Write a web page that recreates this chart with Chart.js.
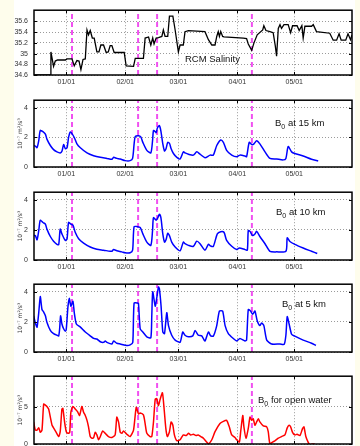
<!DOCTYPE html>
<html>
<head>
<meta charset="utf-8">
<script src="https://cdn.jsdelivr.net/npm/chart.js@4/dist/chart.umd.min.js"></script>
<style>
    body { margin: 0; width: 360px; height: 446px; overflow: hidden; background: #fefdec; position: relative;
           font-family: 'Liberation Sans', Arial, sans-serif; }
    #fig { position: absolute; left: 14px; top: 0; width: 341px; height: 446px; background: #ffffff; }
    canvas { position: absolute; left: 0; }
    .note { position: absolute; font-size: 9.5px; line-height: 1; color: #111; white-space: nowrap; }
    .note sub { font-size: 7px; vertical-align: -3px; line-height: 0; }
</style>
</head>
<body>
<div id="fig"></div>
<canvas id="c1" width="360" height="89" style="top:0px"></canvas>
<canvas id="c2" width="360" height="91" style="top:90px"></canvas>
<canvas id="c3" width="360" height="92" style="top:182px"></canvas>
<canvas id="c4" width="360" height="92" style="top:274px"></canvas>
<canvas id="c5" width="360" height="92" style="top:366px"></canvas>

<div class="note" style="left:185px;top:54px">RCM Salinity</div>
<div class="note" style="left:275px;top:118px">B<sub>0</sub> at 15 km</div>
<div class="note" style="left:276px;top:207px">B<sub>0</sub> at 10 km</div>
<div class="note" style="left:282px;top:299px">B<sub>0</sub> at 5 km</div>
<div class="note" style="left:258px;top:395px">B<sub>0</sub> for open water</div>

<script>
// days counted from 01/01
const monthTicks = [0, 31, 59, 90, 120];
const monthLabels = ['01/01', '02/01', '03/01', '04/01', '05/01'];
const eventDays = [3.0, 37.8, 47.8, 97.7];

// RCM salinity
const salDays = [-17.2, -8.4, -8.1, -6.7, -5.8, -4.6, -0.5, 0.4, 3.0, 4.2, 5.6, 6.7, 7.7, 8.8, 10.0, 10.9, 11.7, 12.6, 13.7, 14.7,
    16.1, 17.2, 18.2, 19.6, 21.0, 22.1, 23.1, 24.0, 25.2, 30.5, 31.5, 35.4, 36.3, 40.6, 41.5, 43.3, 44.5, 45.5, 46.2, 47.3,
    48.5, 50.3, 51.1, 52.0, 53.4, 54.3, 56.1, 57.3, 59.0, 59.9, 61.6, 62.5, 64.3, 73.0, 74.8, 76.6, 78.3, 79.2, 80.0, 80.6,
    81.3, 82.3, 83.0, 93.2, 94.9, 95.8, 97.6, 98.8, 100.5, 103.4, 104.0, 105.1, 107.2, 108.9, 110.0, 110.7, 111.6, 112.5, 113.3, 114.6,
    116.8, 118.1, 119.1, 121.5, 122.6, 124.0, 124.7, 125.6, 129.1, 130.0, 131.7, 138.7, 140.5, 142.3, 143.6, 144.7, 147.1, 148.3, 149.6, 150.4];
const salValues = [34.6, 34.6, 35.03, 34.76, 34.86, 34.88, 34.88, 34.9, 34.9, 34.77, 34.87, 34.86, 34.7, 34.89, 34.9, 35.44, 35.35, 35.43, 35.29, 35.29,
    35.03, 35.03, 35.16, 35.16, 35.02, 35.03, 35.15, 35.15, 35.02, 35.02, 34.77, 34.76, 34.91, 34.91, 35.29, 35.31, 35.16, 35.29, 35.18, 35.29,
    35.3, 35.32, 35.44, 35.32, 35.32, 35.7, 35.7, 35.44, 35.03, 35.16, 35.16, 35.41, 35.43, 35.41, 35.26, 35.16, 35.16, 35.32, 35.41, 35.32,
    35.41, 35.32, 35.31, 35.29, 35.28, 35.18, 35.06, 35.2, 35.35, 35.44, 35.52, 35.43, 35.41, 35.39, 35.15, 34.95, 35.47, 35.54, 35.47, 35.54,
    35.54, 35.39, 35.52, 35.52, 35.43, 35.52, 35.29, 35.51, 35.51, 35.54, 35.41, 35.38, 35.25, 35.25, 35.37, 35.25, 35.25, 35.37, 35.26, 35.35];

// B0 at 15 km
const b15Days = [-17.2, -16.3, -15.4, -14.5, -13.7, -12.3, -11.0, -10.2, -8.4, -6.7, -4.9, -3.2, -2.3, -1.4, -0.5, 0.4, 1.2, 2.1, 3.0, 4.2,
    5.6, 7.4, 10.9, 14.4, 17.9, 21.4, 24.0, 24.9, 26.6, 28.4, 31.0, 33.6, 34.9, 35.7, 36.3, 38.0, 39.2, 40.3, 42.4, 44.5,
    45.4, 45.9, 46.8, 47.3, 48.0, 49.0, 49.8, 50.8, 51.7, 52.5, 53.4, 54.3, 55.2, 56.4, 58.2, 59.9, 61.6, 62.5, 64.3, 66.9,
    68.7, 70.4, 73.0, 75.7, 77.4, 79.2, 81.3, 82.7, 84.4, 87.1, 89.7, 91.4, 94.1, 94.9, 96.3, 97.6, 98.8, 100.2, 101.9, 104.6,
    107.2, 110.7, 114.2, 115.6, 116.8, 118.6, 120.3, 124.7, 129.1, 132.6];
const b15Values = [1.45, 1.41, 1.30, 1.77, 2.46, 2.38, 2.21, 1.88, 1.45, 1.17, 1.02, 0.95, 1.06, 1.51, 1.23, 1.30, 1.99, 2.36, 2.25, 1.99,
    1.56, 1.30, 0.95, 0.76, 0.65, 0.58, 0.52, 0.65, 0.58, 0.54, 0.43, 0.43, 0.58, 1.56, 2.05, 2.10, 2.03, 1.66, 1.12, 0.95,
    1.77, 2.46, 2.38, 2.31, 2.64, 2.79, 2.42, 1.56, 1.08, 1.23, 1.66, 1.60, 1.23, 0.91, 0.65, 0.54, 1.02, 0.95, 0.86, 0.80,
    1.02, 0.86, 0.63, 0.80, 0.80, 1.45, 1.82, 1.66, 1.12, 0.80, 0.69, 0.80, 0.74, 0.69, 1.66, 1.51, 1.56, 1.77, 1.56, 1.02,
    0.58, 0.54, 0.48, 0.58, 1.38, 1.02, 0.91, 0.74, 0.52, 0.41];

// B0 at 10 km
const b10Days = [-17.2, -16.3, -15.4, -14.5, -13.7, -12.3, -11.0, -10.2, -8.4, -6.7, -4.9, -4.0, -3.2, -2.3, -0.5, 0.4, 1.2, 2.4, 3.5, 4.7,
    6.5, 9.1, 12.6, 16.1, 19.6, 23.1, 24.0, 24.9, 26.6, 29.2, 31.0, 33.6, 34.9, 35.7, 37.5, 38.9, 40.3, 42.4, 44.5, 45.4,
    45.9, 47.3, 48.2, 49.0, 49.8, 50.8, 51.7, 52.5, 53.4, 54.3, 55.5, 57.3, 59.9, 61.6, 62.5, 64.3, 66.9, 68.7, 70.4, 73.0,
    74.8, 76.0, 77.4, 79.5, 81.3, 83.0, 84.4, 87.1, 89.7, 91.1, 94.1, 95.3, 95.8, 96.7, 98.1, 99.3, 100.2, 101.9, 104.6, 107.2,
    110.7, 115.6, 116.3, 117.7, 120.3, 124.7, 129.1, 132.1];
const b10Values = [1.62, 1.62, 1.34, 1.95, 2.64, 2.49, 2.38, 2.05, 1.56, 1.25, 1.04, 1.02, 2.05, 1.73, 1.30, 1.41, 2.49, 2.38, 2.31, 1.84,
    1.41, 1.12, 0.86, 0.71, 0.65, 0.58, 0.58, 0.69, 0.61, 0.54, 0.48, 0.48, 0.65, 2.21, 2.21, 2.16, 1.73, 1.19, 0.97, 1.95,
    2.81, 2.64, 2.81, 3.03, 2.81, 1.73, 1.19, 1.34, 1.77, 1.62, 1.19, 0.86, 0.61, 1.19, 1.08, 0.97, 0.91, 1.25, 1.08, 0.65,
    1.04, 0.93, 0.91, 1.73, 1.88, 1.84, 1.30, 0.91, 0.69, 0.80, 0.69, 0.65, 1.95, 1.90, 1.62, 1.73, 1.90, 1.56, 1.08, 0.58,
    0.54, 0.58, 1.47, 1.23, 1.04, 0.80, 0.58, 0.43];

// B0 at 5 km
const b5Days = [-17.2, -16.3, -15.4, -14.5, -13.7, -12.8, -11.9, -11.0, -10.2, -8.4, -6.7, -4.9, -4.0, -3.5, -3.0, -2.3, -1.4, -0.5, 0.0, 0.9,
    1.6, 2.4, 3.5, 4.2, 5.3, 7.4, 10.0, 12.6, 14.4, 16.1, 17.9, 19.6, 20.5, 21.4, 24.0, 24.9, 26.6, 28.4, 31.9, 33.6,
    35.0, 35.7, 37.5, 38.0, 38.9, 40.3, 42.4, 44.5, 45.0, 45.5, 46.8, 47.6, 48.5, 49.0, 49.9, 50.8, 51.7, 52.9, 53.8, 55.5,
    57.3, 59.9, 61.3, 62.5, 64.3, 66.6, 67.8, 69.5, 71.3, 73.0, 74.8, 76.0, 77.4, 79.2, 80.6, 82.3, 83.6, 85.3, 87.9, 89.7,
    91.4, 94.1, 94.9, 95.8, 97.0, 98.1, 99.3, 100.5, 101.9, 102.8, 104.0, 105.5, 108.1, 112.5, 114.7, 115.6, 116.3, 117.3, 118.6, 120.3,
    124.7, 129.1, 131.4];
const b5Values = [2.40, 1.93, 1.65, 2.61, 3.68, 2.82, 2.65, 2.40, 1.97, 1.43, 1.22, 1.11, 1.07, 1.54, 2.40, 1.86, 1.54, 1.37, 1.54, 3.04,
    3.57, 3.04, 3.36, 2.61, 1.86, 1.65, 1.33, 1.07, 0.90, 0.86, 0.68, 0.64, 0.73, 0.64, 0.53, 0.73, 0.58, 0.53, 0.43, 0.47,
    0.64, 3.25, 3.25, 3.21, 1.54, 1.33, 1.01, 0.94, 2.40, 4.00, 3.04, 3.57, 4.32, 4.21, 3.04, 1.33, 1.22, 2.61, 1.75, 1.11,
    0.79, 0.64, 1.33, 1.11, 1.01, 1.07, 1.43, 1.11, 1.07, 0.73, 1.33, 1.07, 1.05, 1.75, 2.72, 2.72, 1.75, 1.22, 0.90, 0.73,
    0.90, 0.73, 0.79, 2.82, 2.72, 2.50, 2.72, 2.07, 1.75, 1.93, 1.75, 0.79, 0.53, 0.53, 0.51, 1.11, 2.35, 1.86, 1.18, 1.05,
    0.79, 0.58, 0.43];

// B0 for open water
const owDays = [-17.2, -16.3, -15.4, -14.5, -13.7, -12.8, -11.9, -11.0, -10.2, -9.3, -8.4, -7.5, -6.7, -5.3, -4.0, -3.2, -2.3, -1.8, -0.9, 0.0,
    0.9, 1.8, 2.4, 3.5, 4.7, 5.9, 7.0, 8.2, 9.1, 10.0, 10.9, 11.7, 12.6, 13.5, 14.4, 15.2, 16.1, 17.0, 17.9, 19.1,
    20.5, 22.2, 24.0, 25.7, 26.6, 27.5, 28.4, 29.2, 30.1, 31.9, 33.6, 35.4, 36.8, 38.0, 38.9, 40.6, 41.5, 42.4, 44.1, 45.0,
    45.9, 46.8, 47.6, 48.5, 49.4, 50.6, 51.5, 52.4, 53.2, 54.3, 55.2, 56.1, 56.9, 58.2, 59.9, 61.6, 63.1, 64.3, 65.5, 66.9,
    68.3, 69.5, 70.8, 72.2, 73.9, 74.8, 76.6, 78.3, 80.9, 82.7, 84.4, 85.8, 87.1, 88.8, 89.7, 91.1, 91.8, 92.9, 93.5, 94.6,
    95.8, 96.7, 97.6, 98.4, 99.3, 100.2, 101.1, 101.9, 103.7, 105.5, 106.3, 107.2, 108.6, 109.8, 111.6, 113.3, 115.1, 116.3, 117.3, 118.1,
    119.1, 120.3, 121.5, 123.0, 124.4, 125.1, 126.1, 127.3, 128.2, 129.6, 130.8];
const owValues = [2.96, 1.87, 1.87, 2.17, 1.57, 1.87, 5.35, 5.22, 5.04, 4.70, 3.61, 2.52, 2.17, 1.57, 1.00, 1.65, 4.70, 4.78, 2.96, 1.65,
    1.43, 1.57, 4.26, 5.04, 4.70, 4.35, 3.83, 5.04, 4.26, 3.83, 3.17, 2.30, 1.00, 0.78, 0.87, 1.57, 1.22, 0.57, 1.00, 1.74,
    1.43, 1.00, 0.87, 1.22, 3.61, 2.96, 1.57, 1.43, 1.74, 1.30, 1.00, 1.87, 4.91, 4.04, 4.17, 3.91, 2.74, 1.43, 1.00, 1.00,
    2.96, 6.00, 6.09, 5.13, 6.00, 6.87, 4.70, 2.09, 1.00, 1.65, 2.96, 2.52, 1.22, 0.43, 0.57, 1.22, 1.13, 1.43, 1.22, 1.30,
    1.13, 1.22, 1.00, 0.78, 0.26, 0.00, 0.57, 1.65, 2.74, 3.04, 3.17, 2.30, 1.22, 0.87, 0.57, 0.26, 1.65, 3.83, 2.30, 0.78,
    2.09, 3.61, 3.17, 3.39, 2.52, 2.96, 3.39, 2.96, 2.43, 2.30, 1.65, 0.00, 0.26, 0.43, 0.78, 1.00, 1.22, 2.17, 2.52, 2.30,
    1.57, 1.22, 1.30, 1.13, 2.09, 2.30, 1.00, 0.26, -0.10, 0.00, 0.00];

const yTitle = '10⁻⁷ m²/s³';
const tickFont = { family: "'Liberation Sans', Arial, sans-serif", size: 7 };

// box round the plot area with MATLAB style inward ticks
const framePlugin = {
    id: 'frame',
    afterDraw(chart) {
        const { ctx, chartArea: a, scales: { x, y } } = chart;
        ctx.save();
        ctx.strokeStyle = '#000';
        ctx.lineWidth = 1;
        ctx.beginPath();
        y.ticks.forEach(t => {
            const py = Math.round(y.getPixelForValue(t.value)) + 0.5;
            ctx.moveTo(a.left, py); ctx.lineTo(a.left + 3, py);
            ctx.moveTo(a.right, py); ctx.lineTo(a.right - 3, py);
        });
        x.ticks.forEach(t => {
            const px = Math.round(x.getPixelForValue(t.value)) + 0.5;
            ctx.moveTo(px, a.bottom); ctx.lineTo(px, a.bottom - 3);
            ctx.moveTo(px, a.top); ctx.lineTo(px, a.top + 3);
        });
        ctx.stroke();
        ctx.lineWidth = 1.5;
        ctx.strokeRect(a.left, a.top, a.right - a.left, a.bottom - a.top);
        ctx.restore();
    }
};

function toPoints(days, values) {
    return days.map((d, i) => ({ x: d, y: values[i] }));
}

function makePanel(id, padTop, days, values, color, width, tension, yMin, yMax, yTicks, showTitle) {
    const datasets = [{
        data: toPoints(days, values),
        borderColor: color,
        borderWidth: width,
        pointRadius: 0,
        tension: tension,
        order: 0
    }];
    eventDays.forEach(d => {
        datasets.push({
            data: [{ x: d, y: yMin }, { x: d, y: yMax }],
            borderColor: '#f050f0',
            borderWidth: 2,
            borderDash: [5, 3],
            pointRadius: 0,
            order: 1
        });
    });

    return new Chart(document.getElementById(id), {
        type: 'line',
        data: { datasets: datasets },
        options: {
            responsive: false,
            devicePixelRatio: 1,
            animation: false,
            layout: { padding: { left: 0, right: 8, top: padTop, bottom: 0 } },
            plugins: { legend: { display: false }, tooltip: { enabled: false } },
            scales: {
                x: {
                    type: 'linear',
                    min: -17,
                    max: 150.4,
                    afterBuildTicks: scale => { scale.ticks = monthTicks.map(v => ({ value: v })); },
                    afterFit: scale => { scale.height = 14; },
                    grid: { color: '#9a9a9a', lineWidth: 1, drawTicks: false },
                    border: { display: false, dash: [1, 2] },
                    ticks: {
                        font: tickFont,
                        color: '#333',
                        padding: 3,
                        maxRotation: 0,
                        callback: value => monthLabels[monthTicks.indexOf(value)]
                    }
                },
                y: {
                    min: yMin,
                    max: yMax,
                    afterBuildTicks: scale => { scale.ticks = yTicks.map(v => ({ value: v })); },
                    afterFit: scale => { scale.width = 34; },
                    grid: { color: '#9a9a9a', lineWidth: 1, drawTicks: false },
                    border: { display: false, dash: [1, 2] },
                    ticks: {
                        font: tickFont,
                        color: '#333',
                        padding: 6,
                        callback: value => String(value)
                    },
                    title: {
                        display: showTitle,
                        text: yTitle,
                        color: '#333',
                        font: { family: "'DejaVu Sans', sans-serif", size: 6 },
                        padding: { top: 17, bottom: 0 }
                    }
                }
            }
        },
        plugins: [framePlugin]
    });
}

makePanel('c1', 5, salDays, salValues, '#000000', 1.3, 0, 34.6, 35.81, [34.6, 34.8, 35, 35.2, 35.4, 35.6], false);
makePanel('c2', 8, b15Days, b15Values, '#0000ff', 1.5, 0.25, 0, 4.5, [0, 2, 4], true);
makePanel('c3', 9, b10Days, b10Values, '#0000ff', 1.5, 0.25, 0, 4.5, [0, 2, 4], true);
makePanel('c4', 9, b5Days, b5Values, '#0000ff', 1.5, 0.2, 0, 4.5, [0, 2, 4], true);
makePanel('c5', 9, owDays, owValues, '#ff0000', 1.5, 0.2, 0, 9.1, [0, 5], true);
</script>
</body>
</html>
